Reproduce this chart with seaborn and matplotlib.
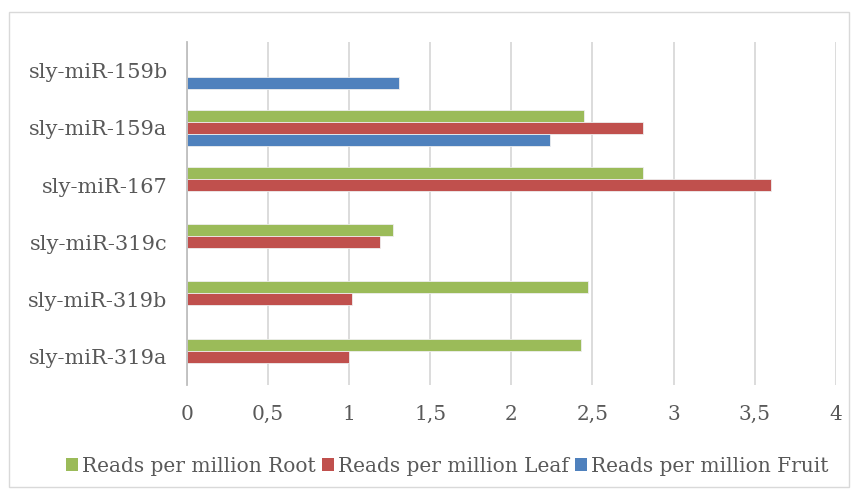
import numpy as np
import pandas as pd
import matplotlib
matplotlib.use("Agg")
import matplotlib.pyplot as plt
from matplotlib.patches import Rectangle, Patch
from matplotlib.ticker import FuncFormatter, MultipleLocator
import seaborn as sns

categories = ["sly-miR-159b", "sly-miR-159a", "sly-miR-167",
              "sly-miR-319c", "sly-miR-319b", "sly-miR-319a"]
series = ["Reads per million Root", "Reads per million Leaf", "Reads per million Fruit"]
root = [np.nan, 2.45, 2.81, 1.27, 2.47, 2.43]
leaf = [np.nan, 2.81, 3.60, 1.19, 1.02, 1.00]
fruit = [1.31, 2.24, np.nan, np.nan, np.nan, np.nan]
colors = ["#9BBB59", "#C0504D", "#4F81BD"]

rows = []
for name, vals in zip(series, [root, leaf, fruit]):
    for cat, v in zip(categories, vals):
        rows.append({"miRNA": cat, "Sample": name, "Reads": v})
df = pd.DataFrame(rows)

sns.set_style("white")
plt.rcParams["font.family"] = ["DejaVu Serif"]

fig = plt.figure(figsize=(8.58, 4.97), dpi=100)
ax = fig.add_axes([0.218, 0.225, 0.756, 0.69])

sns.barplot(data=df, y="miRNA", x="Reads", hue="Sample",
            order=categories, hue_order=series, palette=colors,
            saturation=1, orient="h", width=0.63, edgecolor="#EEEEEE",
            linewidth=0.6, legend=False, ax=ax, errorbar=None)

ax.set_xlim(0, 4)
ax.xaxis.set_major_locator(MultipleLocator(0.5))
ax.xaxis.set_major_formatter(FuncFormatter(
    lambda v, p: ("%g" % v).replace(".", ",")))
ax.grid(axis="x", color="#D9D9D9", linewidth=1.3)
ax.set_axisbelow(True)
for s in ["top", "right", "bottom"]:
    ax.spines[s].set_visible(False)
ax.spines["left"].set_color("#BFBFBF")
ax.spines["left"].set_linewidth(1.3)
ax.tick_params(axis="x", length=0, labelsize=14.5, colors="#595959", pad=14)
ax.tick_params(axis="y", length=0, labelsize=15, colors="#595959", pad=14)
ax.set_xlabel("")
ax.set_ylabel("")

handles = [Patch(facecolor=c, edgecolor="none") for c in colors]
fig.legend(handles, series, loc="center", bbox_to_anchor=(0.521, 0.062),
           ncol=3, frameon=False, fontsize=14.5, handlelength=0.6,
           handleheight=0.6, handletextpad=0.2, columnspacing=0.3,
           labelcolor="#595959")

fig.patches.append(Rectangle((0.011, 0.02), 0.978, 0.955, transform=fig.transFigure,
                             fill=False, edgecolor="#D9D9D9", linewidth=1.0))

fig.savefig("out.png", dpi=100)
